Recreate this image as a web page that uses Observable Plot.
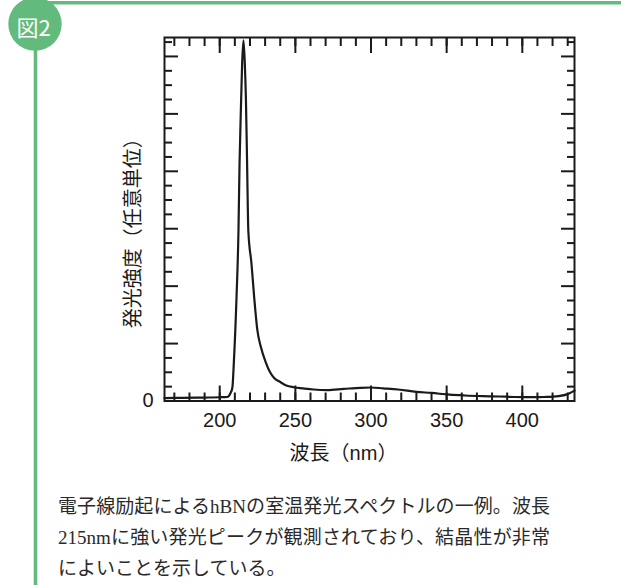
<!DOCTYPE html>
<html>
<head>
<meta charset="utf-8">
<script src="https://cdn.jsdelivr.net/npm/d3@7"></script>
<script src="https://cdn.jsdelivr.net/npm/@observablehq/plot@0.6"></script>
<style>
  html, body { margin: 0; padding: 0; background: #fff; }
  #wrap { position: relative; width: 621px; height: 585px; overflow: hidden; }
  #chart { position: absolute; left: 0; top: 0; }
  #deco { position: absolute; left: 0; top: 0; }
  #caption { position: absolute; left: 58px; top: 491px; width: 492px;
    font-family: "Liberation Serif", "Noto Sans CJK JP", serif; font-size: 19px;
    line-height: 31px; color: #2a2a2a; }
  #caption .j { text-align: justify; text-align-last: justify; white-space: nowrap; }
</style>
</head>
<body>
<div id="wrap">
  <div id="chart"></div>
  <svg id="deco" width="621" height="585">
    <line x1="35" y1="2.7" x2="621" y2="2.7" stroke="#62bb7d" stroke-width="3.4"/>
    <line x1="35.5" y1="24" x2="35.5" y2="585" stroke="#62bb7d" stroke-width="3.6"/>
    <circle cx="35" cy="24" r="26.7" fill="#62bb7d"/>
    <text x="33.5" y="26" fill="#fff" font-family="Noto Sans CJK JP" font-size="22" text-anchor="middle" dominant-baseline="central">図2</text>
  </svg>
  <div id="caption">
    <div class="j">電子線励起によるhBNの室温発光スペクトルの一例。波長</div>
    <div class="j">215nmに強い発光ピークが観測されており、結晶性が非常</div>
    <div>によいことを示している。</div>
  </div>
</div>
<script>
// Spectrum (wavelength nm, intensity in arbitrary units)
const wavelength = [163.5, 175, 190, 200, 205, 207, 208.4, 209.3, 211.1, 212.4, 213.1, 214.2, 214.8, 215.7,
  216.6, 217.3, 218.1, 218.9, 221.0, 222.8, 224.9, 227.2, 230.5, 233.3, 236, 240, 244, 249, 255, 262, 271,
  282, 293, 300, 308, 318, 330, 340, 352, 362, 374, 385, 395, 406, 415, 424, 430, 434.5];
const intensity = [0.05, 0.055, 0.06, 0.065, 0.07, 0.13, 0.24, 0.65, 1.8, 2.97, 4.13, 5.28, 5.86, 6.28,
  5.86, 5.28, 4.13, 2.97, 2.39, 1.8, 1.23, 0.94, 0.67, 0.5, 0.4, 0.33, 0.27, 0.24, 0.22, 0.2, 0.19,
  0.21, 0.23, 0.235, 0.22, 0.2, 0.16, 0.14, 0.11, 0.096, 0.085, 0.078, 0.07, 0.066, 0.07, 0.085, 0.12, 0.18];

const xTickLabels = [200, 250, 300, 350, 400];
const xMinorTicks = [170, 180, 190, 200, 210, 220, 230, 240, 250, 260, 270, 280, 290, 300, 310, 320, 330,
  340, 350, 360, 370, 380, 390, 400, 410, 420, 430];
const yTickLabels = [0];
const yMajorTicks = [0, 1, 2, 3, 4, 5, 6];
const yMinorTicks = [0.25, 0.5, 0.75, 1.25, 1.5, 1.75, 2.25, 2.5, 2.75, 3.25, 3.5, 3.75, 4.25, 4.5, 4.75,
  5.25, 5.5, 5.75, 6.25];
const xLabel = "波長（nm）";
const yLabel = "発光強度（任意単位）";

const data = wavelength.map((w, i) => ({wl: w, v: intensity[i]}));
const ink = "#1a1a1a";
const tickStyle = {stroke: ink, strokeWidth: 2, fill: "none", label: null};

const chart = Plot.plot({
  width: 621,
  height: 470,
  marginLeft: 164,
  marginRight: 47,
  marginTop: 37,
  marginBottom: 69.5,
  x: {domain: [163.5, 434.5], label: null},
  y: {domain: [0, 6.33], label: null},
  style: {fontFamily: "'Liberation Sans', 'Noto Sans CJK JP', sans-serif", fontSize: "20px", color: ink, background: "transparent"},
  marks: [
    Plot.axisX(xMinorTicks, {anchor: "bottom", tickSize: -8, ...tickStyle}),
    Plot.axisX(xTickLabels, {anchor: "bottom", tickSize: -15, ...tickStyle}),
    Plot.axisX(xMinorTicks, {anchor: "top", tickSize: -8, ...tickStyle}),
    Plot.axisX(xTickLabels, {anchor: "top", tickSize: -15, ...tickStyle}),
    Plot.axisY(yMinorTicks, {anchor: "left", tickSize: -8, ...tickStyle}),
    Plot.axisY(yMajorTicks, {anchor: "left", tickSize: -14, ...tickStyle}),
    Plot.axisY(yMinorTicks, {anchor: "right", tickSize: -8, ...tickStyle}),
    Plot.axisY(yMajorTicks, {anchor: "right", tickSize: -14, ...tickStyle}),
    Plot.axisX(xTickLabels, {anchor: "bottom", tickSize: 0, tickPadding: 12, fontSize: 20, fill: ink, label: null, tickFormat: d => String(d)}),
    Plot.axisY(yTickLabels, {anchor: "left", tickSize: 0, tickPadding: 11, fontSize: 20, fill: ink, label: null, tickFormat: d => String(d)}),
    Plot.frame({stroke: ink, strokeWidth: 2}),
    Plot.line(data, {x: "wl", y: "v", stroke: ink, strokeWidth: 2.2, curve: "monotone-x"}),
    Plot.text([xLabel], {text: d => d, frameAnchor: "bottom", dx: -26, dy: 52.5, fontSize: 20, lineAnchor: "middle", fill: ink}),
    Plot.text([yLabel], {text: d => d, frameAnchor: "left", rotate: -90, dx: -31, dy: 9, fontSize: 20, textAnchor: "middle", lineAnchor: "middle", fill: ink})
  ]
});
document.getElementById("chart").append(chart);
</script>
</body>
</html>
